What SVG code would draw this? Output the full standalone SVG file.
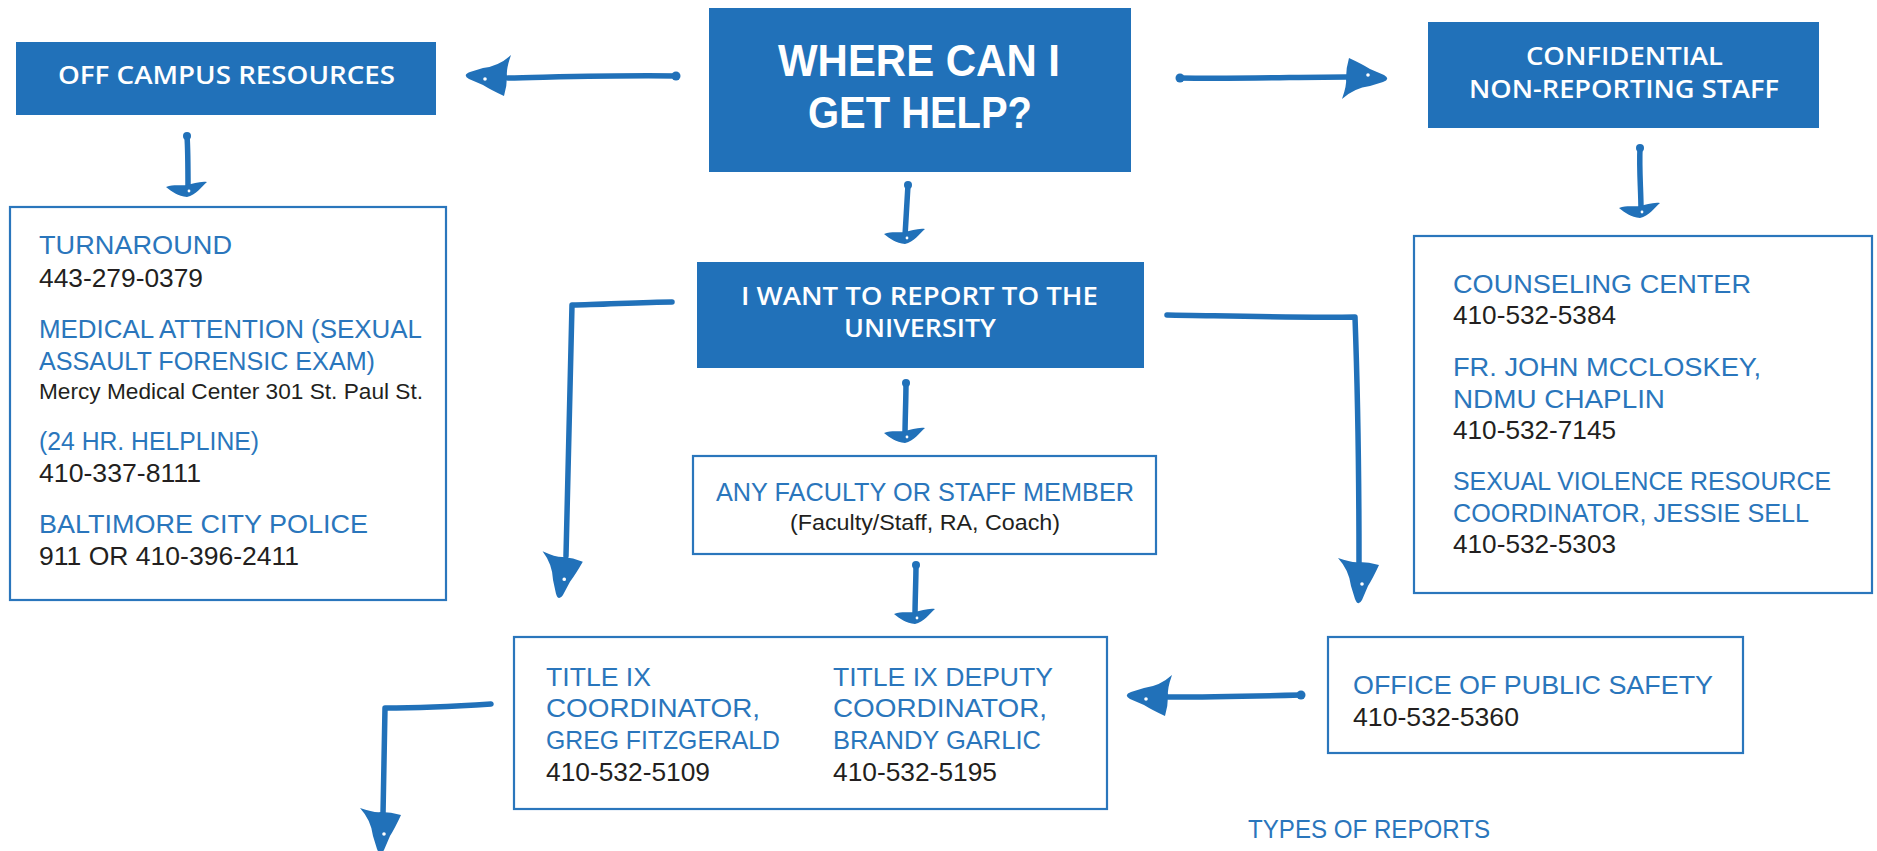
<svg xmlns="http://www.w3.org/2000/svg" xmlns:xlink="http://www.w3.org/1999/xlink" width="1877" height="851" viewBox="0 0 1877 851">
<style>
.box{fill:#2171b9}
.obox{fill:#fff;stroke:#2a76bc;stroke-width:2.2}
.wt{fill:#fff;font-family:"Open Sans","Liberation Sans",sans-serif;font-weight:600}
.wh{fill:#fff;font-family:"Liberation Sans",sans-serif;font-weight:bold;font-size:44px}
.bt{fill:#2a76bc;font-family:"Liberation Sans",sans-serif;font-size:26px}
.dt{fill:#231f20;font-family:"Liberation Sans",sans-serif;font-size:26px}
.ln{fill:none;stroke:#2171b9;stroke-width:5.5;stroke-linecap:round;stroke-linejoin:round}
.hd{fill:#2171b9}
.dot{fill:#fff}
</style>
<defs>
<g id="hb">
<path class="hd" d="M2,-2 Q9,2 1,5 L-12,9 Q-28,11 -40,22 Q-35,8 -36,1 Q-36,-9 -33,-19 Q-20,-13 -12,-8 Z"/>
<circle class="dot" cx="-14" cy="-2" r="1.8"/>
</g>
<g id="hs">
<path class="hd" d="M-21,-9 C-13,-12 -6,-10 0,-11 C6,-12 13,-15 20,-14 C14,-9 9,-1 0,1 C-9,0 -15,-4 -21,-9 Z"/>
<circle class="dot" cx="2" cy="-5" r="1.4"/>
</g>
</defs>
<rect width="1877" height="851" fill="#fff"/>

<g id="connectors">
<path class="ln" d="M676,76 C620,75 560,77 508,78"/><circle class="hd" cx="676" cy="76" r="4.5"/>
<use xlink:href="#hb" href="#hb" transform="translate(471,77) rotate(180)"/>
<path class="ln" d="M1180,78 C1240,79 1300,77 1346,77"/><circle class="hd" cx="1180" cy="78" r="4.5"/>
<use xlink:href="#hb" href="#hb" transform="translate(1382,77)"/>
<path class="ln" d="M187,136 C188,150 188,170 188,188"/><circle class="hd" cx="187" cy="136" r="4"/>
<use xlink:href="#hs" href="#hs" transform="translate(187,196)"/>
<path class="ln" d="M1640,148 C1639,170 1641,190 1641,210"/><circle class="hd" cx="1640" cy="148" r="4"/>
<use xlink:href="#hs" href="#hs" transform="translate(1640,217)"/>
<path class="ln" d="M908,185 C907,200 906,220 905,236"/><circle class="hd" cx="908" cy="185" r="4"/>
<use xlink:href="#hs" href="#hs" transform="translate(905,243)"/>
<path class="ln" d="M906,383 C906,400 905,420 905,436"/><circle class="hd" cx="906" cy="383" r="4"/>
<use xlink:href="#hs" href="#hs" transform="translate(905,442)"/>
<path class="ln" d="M916,565 C916,580 915,600 915,617"/><circle class="hd" cx="916" cy="565" r="4"/>
<use xlink:href="#hs" href="#hs" transform="translate(915,623)"/>
<path class="ln" d="M672,302 C640,302 600,305 572,305 C569,400 568,480 566,556"/>
<use xlink:href="#hb" href="#hb" transform="translate(561,593) rotate(95)"/>
<path class="ln" d="M1167,315 C1230,316 1300,318 1355,317 C1358,400 1359,480 1359,562"/>
<use xlink:href="#hb" href="#hb" transform="translate(1360,598) rotate(90)"/>
<path class="ln" d="M1301,695 C1260,696 1210,697 1168,697"/><circle class="hd" cx="1301" cy="695" r="4.5"/>
<use xlink:href="#hb" href="#hb" transform="translate(1132,697) rotate(180)"/>
<path class="ln" d="M491,704 C460,706 420,708 385,708 C384,760 383,800 383,815"/>
<use xlink:href="#hb" href="#hb" transform="translate(382,848) rotate(90)"/>
</g>

<g id="where">
<rect class="box" x="709" y="8" width="422" height="164"/>
<text class="wh" x="778" y="76" textLength="282" lengthAdjust="spacingAndGlyphs">WHERE CAN I</text>
<text class="wh" x="808" y="128" textLength="224" lengthAdjust="spacingAndGlyphs">GET HELP?</text>
</g>

<g id="offcampus">
<rect class="box" x="16" y="42" width="420" height="73"/>
<text class="wt" font-size="25" x="58" y="84" textLength="337" lengthAdjust="spacingAndGlyphs">OFF CAMPUS RESOURCES</text>
</g>

<g id="confidential">
<rect class="box" x="1428" y="22" width="391" height="106"/>
<text class="wt" font-size="25" x="1526" y="65" textLength="197" lengthAdjust="spacingAndGlyphs">CONFIDENTIAL</text>
<text class="wt" font-size="25" x="1469" y="98" textLength="310" lengthAdjust="spacingAndGlyphs">NON-REPORTING STAFF</text>
</g>

<g id="offcampuslist">
<rect class="obox" x="10" y="207" width="436" height="393"/>
<text class="bt" x="39" y="254" textLength="193" lengthAdjust="spacingAndGlyphs">TURNAROUND</text>
<text class="dt" x="39" y="287" textLength="164" lengthAdjust="spacingAndGlyphs">443-279-0379</text>
<text class="bt" x="39" y="338" textLength="383" lengthAdjust="spacingAndGlyphs">MEDICAL ATTENTION (SEXUAL</text>
<text class="bt" x="39" y="370" textLength="336" lengthAdjust="spacingAndGlyphs">ASSAULT FORENSIC EXAM)</text>
<text class="dt" x="39" y="399" textLength="384" lengthAdjust="spacingAndGlyphs" style="font-size:22px">Mercy Medical Center 301 St. Paul St.</text>
<text class="bt" x="39" y="450" textLength="220" lengthAdjust="spacingAndGlyphs">(24 HR. HELPLINE)</text>
<text class="dt" x="39" y="482" textLength="162" lengthAdjust="spacingAndGlyphs">410-337-8111</text>
<text class="bt" x="39" y="533" textLength="329" lengthAdjust="spacingAndGlyphs">BALTIMORE CITY POLICE</text>
<text class="dt" x="39" y="565" textLength="260" lengthAdjust="spacingAndGlyphs">911 OR 410-396-2411</text>
</g>

<g id="confidentiallist">
<rect class="obox" x="1414" y="236" width="458" height="357"/>
<text class="bt" x="1453" y="293" textLength="298" lengthAdjust="spacingAndGlyphs">COUNSELING CENTER</text>
<text class="dt" x="1453" y="324" textLength="163" lengthAdjust="spacingAndGlyphs">410-532-5384</text>
<text class="bt" x="1453" y="376" textLength="308" lengthAdjust="spacingAndGlyphs">FR. JOHN MCCLOSKEY,</text>
<text class="bt" x="1453" y="408" textLength="212" lengthAdjust="spacingAndGlyphs">NDMU CHAPLIN</text>
<text class="dt" x="1453" y="439" textLength="163" lengthAdjust="spacingAndGlyphs">410-532-7145</text>
<text class="bt" x="1453" y="490" textLength="378" lengthAdjust="spacingAndGlyphs">SEXUAL VIOLENCE RESOURCE</text>
<text class="bt" x="1453" y="522" textLength="356" lengthAdjust="spacingAndGlyphs">COORDINATOR, JESSIE SELL</text>
<text class="dt" x="1453" y="553" textLength="163" lengthAdjust="spacingAndGlyphs">410-532-5303</text>
</g>

<g id="report">
<rect class="box" x="697" y="262" width="447" height="106"/>
<text class="wt" font-size="25" x="741" y="305" textLength="357" lengthAdjust="spacingAndGlyphs">I WANT TO REPORT TO THE</text>
<text class="wt" font-size="25" x="844" y="337" textLength="152" lengthAdjust="spacingAndGlyphs">UNIVERSITY</text>
</g>

<g id="faculty">
<rect class="obox" x="693" y="456" width="463" height="98"/>
<text class="bt" x="716" y="501" textLength="418" lengthAdjust="spacingAndGlyphs">ANY FACULTY OR STAFF MEMBER</text>
<text class="dt" x="790" y="530" textLength="270" lengthAdjust="spacingAndGlyphs" style="font-size:22px">(Faculty/Staff, RA, Coach)</text>
</g>

<g id="titleix">
<rect class="obox" x="514" y="637" width="593" height="172"/>
<text class="bt" x="546" y="686" textLength="105" lengthAdjust="spacingAndGlyphs">TITLE IX</text>
<text class="bt" x="546" y="717" textLength="214" lengthAdjust="spacingAndGlyphs">COORDINATOR,</text>
<text class="bt" x="546" y="749" textLength="234" lengthAdjust="spacingAndGlyphs">GREG FITZGERALD</text>
<text class="dt" x="546" y="781" textLength="164" lengthAdjust="spacingAndGlyphs">410-532-5109</text>
<text class="bt" x="833" y="686" textLength="220" lengthAdjust="spacingAndGlyphs">TITLE IX DEPUTY</text>
<text class="bt" x="833" y="717" textLength="214" lengthAdjust="spacingAndGlyphs">COORDINATOR,</text>
<text class="bt" x="833" y="749" textLength="208" lengthAdjust="spacingAndGlyphs">BRANDY GARLIC</text>
<text class="dt" x="833" y="781" textLength="164" lengthAdjust="spacingAndGlyphs">410-532-5195</text>
</g>

<g id="publicsafety">
<rect class="obox" x="1328" y="637" width="415" height="116"/>
<text class="bt" x="1353" y="694" textLength="360" lengthAdjust="spacingAndGlyphs">OFFICE OF PUBLIC SAFETY</text>
<text class="dt" x="1353" y="726" textLength="166" lengthAdjust="spacingAndGlyphs">410-532-5360</text>
</g>

<g id="types">
<text class="bt" x="1248" y="838" textLength="242" lengthAdjust="spacingAndGlyphs">TYPES OF REPORTS</text>
</g>
</svg>
